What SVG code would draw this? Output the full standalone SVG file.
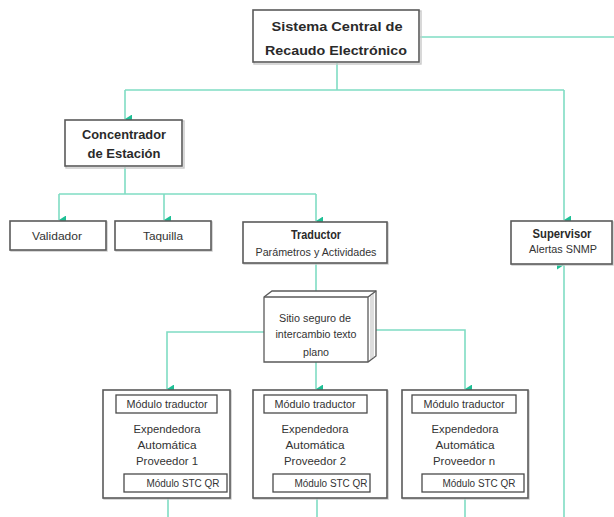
<svg xmlns="http://www.w3.org/2000/svg" width="614" height="517" viewBox="0 0 614 517">
<style>
.box{fill:#fff;stroke:#5a5a5a;stroke-width:1.6}
.sh{fill:none;stroke:#c8c8c8;stroke-width:1.4}
.in{fill:#fff;stroke:#4a4a4a;stroke-width:1.3}
.ln{fill:none;stroke:#7fdcc3;stroke-width:1.6}
text{font-family:"Liberation Sans",Arial,sans-serif;fill:#333;text-anchor:middle}
.b{font-weight:bold;font-size:13px;fill:#2a2a2a}
.t{font-size:11px}
.s{font-size:10px}
</style>
<defs>
<marker id="ar" markerWidth="9" markerHeight="8" refX="4.5" refY="7" orient="auto-start-reverse" markerUnits="userSpaceOnUse" viewBox="0 0 9 8">
<path d="M0,0 L9,0 L4.5,7 Z" fill="#1fbf95"/>
</marker>
</defs>
<g id="connectors">
<path class="ln" d="M420,37 H614"/>
<path class="ln" d="M337,63 V90"/>
<path class="ln" d="M125,90 H564"/>
<path class="ln" d="M125,90 V119" marker-end="url(#ar)"/>
<path class="ln" d="M564,90 V220" marker-end="url(#ar)"/>
<path class="ln" d="M564,517 V265" marker-end="url(#ar)"/>
<path class="ln" d="M125,167 V194"/>
<path class="ln" d="M59,194 H316"/>
<path class="ln" d="M59,194 V220" marker-end="url(#ar)"/>
<path class="ln" d="M164,194 V220" marker-end="url(#ar)"/>
<path class="ln" d="M316,194 V221" marker-end="url(#ar)"/>
<path class="ln" d="M316,263 V296" marker-end="url(#ar)"/>
<path class="ln" d="M264,332 H167 V389" marker-end="url(#ar)"/>
<path class="ln" d="M376,330 H465 V389" marker-end="url(#ar)"/>
<path class="ln" d="M316,362 V389" marker-end="url(#ar)"/>
<path class="ln" d="M168,498 V517"/>
<path class="ln" d="M317,498 V517"/>
<path class="ln" d="M465,498 V517"/>
</g>
<g id="sistema">
<rect class="sh" x="254" y="11" width="167" height="53"/>
<rect class="box" x="253" y="10" width="166" height="52"/>
<text class="b" x="337" y="31" textLength="131" lengthAdjust="spacingAndGlyphs">Sistema Central de</text>
<text class="b" x="336" y="55" textLength="142" lengthAdjust="spacingAndGlyphs">Recaudo Electrónico</text>
</g>
<g id="concentrador">
<rect class="sh" x="66" y="121" width="118" height="47"/>
<rect class="box" x="65" y="120" width="117" height="46"/>
<text class="b" x="124" y="139" textLength="84" lengthAdjust="spacingAndGlyphs">Concentrador</text>
<text class="b" x="124" y="158" textLength="73" lengthAdjust="spacingAndGlyphs">de Estación</text>
</g>
<g id="validador">
<rect class="sh" x="11" y="222" width="96" height="29"/>
<rect class="box" x="10" y="221" width="96" height="29"/>
<text class="t" x="57" y="240" textLength="50" lengthAdjust="spacingAndGlyphs">Validador</text>
</g>
<g id="taquilla">
<rect class="sh" x="116" y="222" width="96" height="29"/>
<rect class="box" x="115" y="221" width="96" height="29"/>
<text class="t" x="163" y="240" textLength="40" lengthAdjust="spacingAndGlyphs">Taquilla</text>
</g>
<g id="traductor">
<rect class="sh" x="244" y="223" width="144" height="41"/>
<rect class="box" x="243" y="222" width="144" height="41"/>
<text class="b" x="316" y="239" font-size="11" textLength="50" lengthAdjust="spacingAndGlyphs">Traductor</text>
<text class="t" x="316" y="256" textLength="121" lengthAdjust="spacingAndGlyphs">Parámetros y Actividades</text>
</g>
<g id="supervisor">
<rect class="sh" x="512" y="222" width="101" height="43"/>
<rect class="box" x="511" y="221" width="101" height="43"/>
<text class="b" x="562" y="238" font-size="11" textLength="59" lengthAdjust="spacingAndGlyphs">Supervisor</text>
<text class="t" x="563" y="253" textLength="68" lengthAdjust="spacingAndGlyphs">Alertas SNMP</text>
</g>
<g id="sitio">
<path d="M264,297 L272,291 H376 V356 L368,362 H264 Z" fill="#fff" stroke="#5a5a5a" stroke-width="1.3"/>
<path d="M264,297 H368 L376,291 M368,297 V362" fill="none" stroke="#5a5a5a" stroke-width="1.3"/>
<path d="M371,296 V359 M373,294 V358" fill="none" stroke="#aaa" stroke-width="0.8"/>
<text class="s" x="315" y="322" textLength="72" lengthAdjust="spacingAndGlyphs">Sitio seguro de</text>
<text class="s" x="316" y="338" textLength="81" lengthAdjust="spacingAndGlyphs">intercambio texto</text>
<text class="s" x="316" y="356" textLength="26" lengthAdjust="spacingAndGlyphs">plano</text>
</g>
<g id="modulo1">
<rect class="sh" x="104" y="391" width="127" height="108"/>
<rect class="box" x="103" y="390" width="127" height="108"/>
<rect class="in" x="116" y="395" width="101" height="18"/>
<text class="s" x="167" y="408" textLength="81" lengthAdjust="spacingAndGlyphs">Módulo traductor</text>
<text class="t" x="167" y="433" textLength="67" lengthAdjust="spacingAndGlyphs">Expendedora</text>
<text class="t" x="167" y="449" textLength="59" lengthAdjust="spacingAndGlyphs">Automática</text>
<text class="t" x="167" y="465" textLength="62" lengthAdjust="spacingAndGlyphs">Proveedor  1</text>
<rect class="in" x="124" y="474" width="103" height="18"/>
<text class="s" x="183" y="487" textLength="73" lengthAdjust="spacingAndGlyphs">Módulo STC QR</text>
</g>
<g id="modulo2">
<rect class="sh" x="254" y="391" width="134" height="108"/>
<rect class="box" x="253" y="390" width="134" height="108"/>
<rect class="in" x="264" y="395" width="103" height="18"/>
<text class="s" x="315" y="408" textLength="81" lengthAdjust="spacingAndGlyphs">Módulo traductor</text>
<text class="t" x="315" y="433" textLength="67" lengthAdjust="spacingAndGlyphs">Expendedora</text>
<text class="t" x="315" y="449" textLength="59" lengthAdjust="spacingAndGlyphs">Automática</text>
<text class="t" x="315" y="465" textLength="62" lengthAdjust="spacingAndGlyphs">Proveedor  2</text>
<rect class="in" x="273" y="474" width="97" height="18"/>
<text class="s" x="331" y="487" textLength="73" lengthAdjust="spacingAndGlyphs">Módulo STC QR</text>
</g>
<g id="modulo3">
<rect class="sh" x="403" y="391" width="126" height="108"/>
<rect class="box" x="402" y="390" width="126" height="108"/>
<rect class="in" x="412" y="395" width="104" height="18"/>
<text class="s" x="464" y="408" textLength="81" lengthAdjust="spacingAndGlyphs">Módulo traductor</text>
<text class="t" x="465" y="433" textLength="67" lengthAdjust="spacingAndGlyphs">Expendedora</text>
<text class="t" x="465" y="449" textLength="59" lengthAdjust="spacingAndGlyphs">Automática</text>
<text class="t" x="464" y="465" textLength="62" lengthAdjust="spacingAndGlyphs">Proveedor  n</text>
<rect class="in" x="422" y="474" width="102" height="18"/>
<text class="s" x="479" y="487" textLength="73" lengthAdjust="spacingAndGlyphs">Módulo STC QR</text>
</g>
</svg>
